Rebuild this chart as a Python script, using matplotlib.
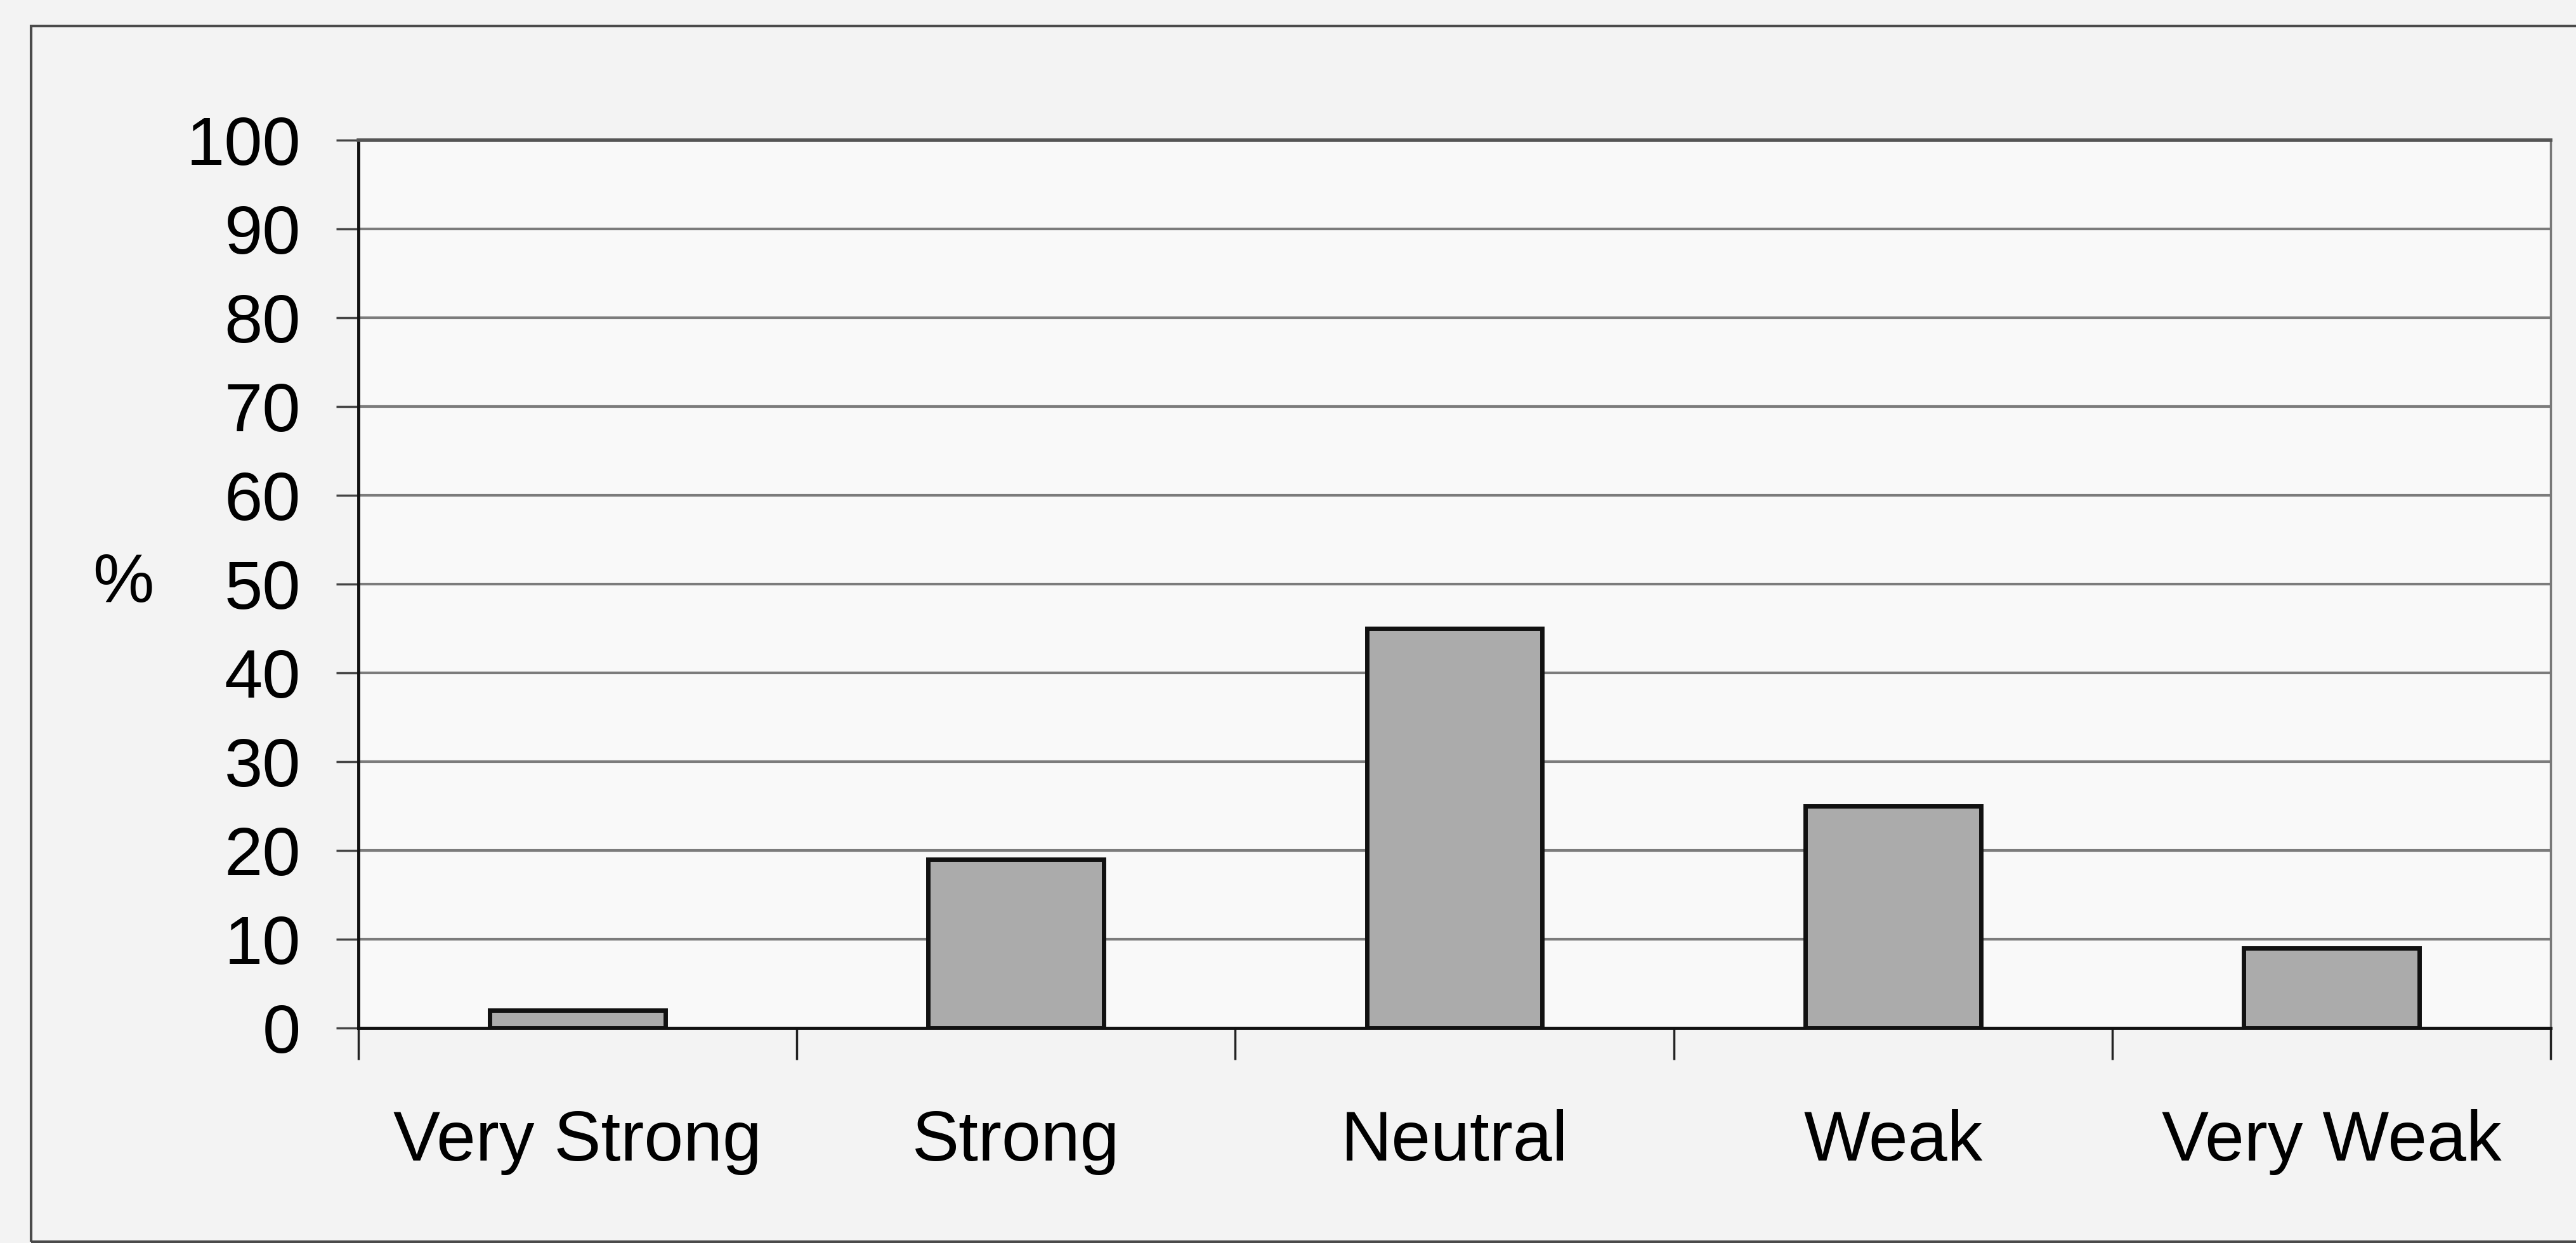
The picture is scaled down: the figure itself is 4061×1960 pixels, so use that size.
import matplotlib
matplotlib.use('Agg')
from matplotlib import pyplot as plt
from matplotlib.patches import Rectangle

# survey answers, percent of respondents
categories = ['Very Strong', 'Strong', 'Neutral', 'Weak', 'Very Weak']
percent = [2, 19, 45, 25, 9]
yticks = [0, 10, 20, 30, 40, 50, 60, 70, 80, 90, 100]

plt.rcParams['font.family'] = ['Liberation Sans', 'DejaVu Sans']

fig = plt.figure(figsize=(40.62, 19.6), dpi=100)
fig.patch.set_facecolor('#f3f3f3')

# chart frame around everything
fig.patches.append(Rectangle((0.012, 0.001), 1.2, 0.978, transform=fig.transFigure,
                             fill=False, edgecolor='#4a4a4a', linewidth=3))

ax = fig.add_axes([0.139, 0.173, 0.851, 0.714])
ax.set_facecolor('#f9f9f9')

x = range(len(categories))
ax.bar(x, percent, width=0.4, color='#ababab', edgecolor='#111111', linewidth=5, zorder=3)

ax.set_xlim(-0.5, len(categories) - 0.5)
ax.set_ylim(0, 100)
ax.set_yticks(yticks)
ax.set_yticklabels([str(t) for t in yticks], fontsize=78)

# ticks sit on the category boundaries, labels in the middle
ax.set_xticks([i - 0.5 for i in range(len(categories) + 1)])
ax.set_xticklabels([])
ax.set_xticks(list(x), minor=True)
ax.set_xticklabels(categories, minor=True, fontsize=80)
ax.tick_params(axis='x', which='minor', length=0, pad=92)
ax.tick_params(axis='x', which='major', length=36, width=2.5, color='#222222')
ax.tick_params(axis='y', length=25, width=2.5, color='#444444', pad=40)

ax.yaxis.grid(True, color='#7c7c7c', linewidth=3, zorder=0)
ax.set_axisbelow(True)

ax.spines['left'].set_color('#111111')
ax.spines['left'].set_linewidth(3.5)
ax.spines['bottom'].set_color('#111111')
ax.spines['bottom'].set_linewidth(3.5)
ax.spines['top'].set_color('#555555')
ax.spines['top'].set_linewidth(4)
ax.spines['right'].set_color('#777777')
ax.spines['right'].set_linewidth(2.5)

ax.set_ylabel('%', rotation=0, fontsize=78, va='center', ha='center')
ax.yaxis.set_label_coords(-0.107, 0.5)

fig.savefig('out.png', dpi=100, facecolor=fig.get_facecolor())
